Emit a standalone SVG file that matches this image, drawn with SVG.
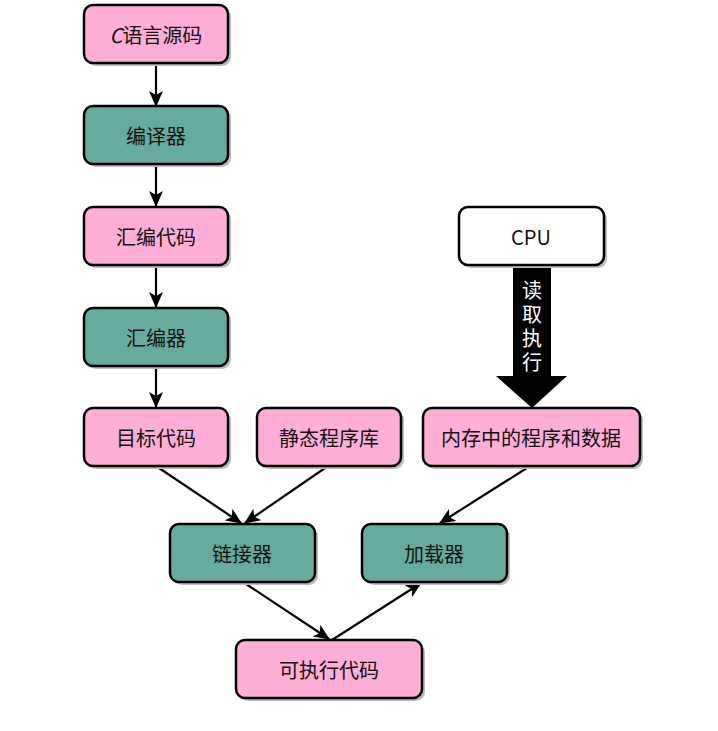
<svg xmlns="http://www.w3.org/2000/svg" width="718" height="731" viewBox="0 0 718 731">
<defs>
<style>
.box{stroke:#000;stroke-width:2.5}
.pink{fill:#ffaed7}
.teal{fill:#67ab9f}
.white{fill:#fff}
.sh{fill:#bdbdbd}
.t{font-family:"Noto Sans CJK SC","Noto Sans",sans-serif;font-size:20px;text-anchor:middle;dominant-baseline:central;fill:#111}
.v{font-family:"Noto Sans CJK SC",sans-serif;font-size:20px;fill:#fff;writing-mode:vertical-rl;text-anchor:middle;letter-spacing:4px}
.c{stroke:#000;stroke-width:2.2;fill:none;marker-end:url(#ah)}
</style>
<marker id="ah" viewBox="0 0 16 14" refX="15" refY="7" markerWidth="16" markerHeight="14" markerUnits="userSpaceOnUse" orient="auto">
<path d="M0,0 L16,7 L0,14 L4,7 Z" fill="#000"/>
</marker>
</defs>
<rect width="718" height="731" fill="#fff"/>
<g id="connectors">
<line class="c" x1="156" y1="63" x2="156" y2="106"/>
<line class="c" x1="156" y1="164" x2="156" y2="206"/>
<line class="c" x1="156" y1="265" x2="156" y2="307"/>
<line class="c" x1="156" y1="366" x2="156" y2="407"/>
<line class="c" x1="156" y1="466" x2="241" y2="523"/>
<line class="c" x1="328" y1="466" x2="245" y2="523"/>
<line class="c" x1="530" y1="466" x2="440" y2="523"/>
<line class="c" x1="243" y1="582" x2="329" y2="639"/>
<line class="c" x1="332" y1="640" x2="421" y2="583"/>
<g id="read-exec">
<path d="M513,265 L551,265 L551,376 L567,376 L532,408 L496,376 L513,376 Z" fill="#000"/>
<text class="v" x="532" y="328">读取执行</text>
</g>
</g>
<g id="n-csrc"><rect class="sh" x="87" y="8" width="144" height="58" rx="9"/><rect class="box pink" x="84" y="5" width="144" height="58" rx="9"/><text class="t" x="156" y="34"><tspan font-style="italic">C</tspan>语言源码</text></g>
<g id="n-compiler"><rect class="sh" x="87" y="109" width="144" height="58" rx="9"/><rect class="box teal" x="84" y="106" width="144" height="58" rx="9"/><text class="t" x="156" y="135">编译器</text></g>
<g id="n-asmcode"><rect class="sh" x="87" y="210" width="144" height="58" rx="9"/><rect class="box pink" x="84" y="207" width="144" height="58" rx="9"/><text class="t" x="156" y="236">汇编代码</text></g>
<g id="n-assembler"><rect class="sh" x="87" y="311" width="144" height="58" rx="9"/><rect class="box teal" x="84" y="308" width="144" height="58" rx="9"/><text class="t" x="156" y="337">汇编器</text></g>
<g id="n-obj"><rect class="sh" x="87" y="411" width="144" height="58" rx="9"/><rect class="box pink" x="84" y="408" width="144" height="58" rx="9"/><text class="t" x="156" y="437">目标代码</text></g>
<g id="n-lib"><rect class="sh" x="260" y="411" width="144" height="58" rx="9"/><rect class="box pink" x="257" y="408" width="144" height="58" rx="9"/><text class="t" x="329" y="437">静态程序库</text></g>
<g id="n-mem"><rect class="sh" x="426" y="411" width="217" height="58" rx="9"/><rect class="box pink" x="423" y="408" width="217" height="58" rx="9"/><text class="t" x="531" y="437">内存中的程序和数据</text></g>
<g id="n-cpu"><rect class="sh" x="462" y="210" width="145" height="58" rx="9"/><rect class="box white" x="459" y="207" width="145" height="58" rx="9"/><text class="t" x="531" y="236">CPU</text></g>
<g id="n-linker"><rect class="sh" x="173" y="527" width="145" height="58" rx="9"/><rect class="box teal" x="170" y="524" width="145" height="58" rx="9"/><text class="t" x="242" y="553">链接器</text></g>
<g id="n-loader"><rect class="sh" x="365" y="527" width="145" height="58" rx="9"/><rect class="box teal" x="362" y="524" width="145" height="58" rx="9"/><text class="t" x="434" y="553">加载器</text></g>
<g id="n-exe"><rect class="sh" x="239" y="643" width="186" height="58" rx="9"/><rect class="box pink" x="236" y="640" width="186" height="58" rx="9"/><text class="t" x="329" y="669">可执行代码</text></g>
</svg>
